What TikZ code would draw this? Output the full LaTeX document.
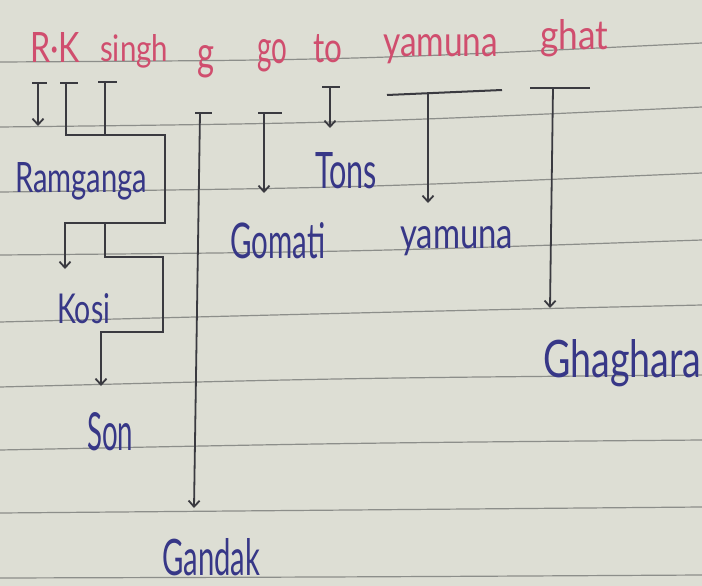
\documentclass[tikz,border=0pt]{standalone}
\usepackage{fontspec}
\setmainfont{Lato}
\usetikzlibrary{arrows.meta}
\definecolor{paper}{RGB}{221,222,212}
\definecolor{rulecol}{RGB}{140,142,138}
\definecolor{ink}{RGB}{58,58,64}
\definecolor{redink}{RGB}{208,78,110}
\definecolor{blueink}{RGB}{55,55,135}
\newcommand{\hwtext}[3]{\resizebox{#1pt}{#2pt}{#3}}
\begin{document}
\begin{tikzpicture}[x=1pt,y=-1pt,
  word/.style={anchor=base west, inner sep=0pt, text=redink},
  river/.style={anchor=base west, inner sep=0pt, text=blueink},
  bar/.style={draw=ink, line width=2pt},
  flow/.style={draw=ink, line width=1.8pt, -{Straight Barb[length=6pt,width=11pt,line width=1.8pt]}},
  ruled/.style={draw=rulecol, line width=1.2pt}]
\fill[paper] (0,0) rectangle (702,586);
\useasboundingbox (0,0) rectangle (702,586);
% ruled lines
\draw[ruled] (0,62) .. controls (350,60) .. (702,43);
\draw[ruled] (0,127) .. controls (350,123) .. (702,107);
\draw[ruled] (0,192) .. controls (350,188) .. (702,173);
\draw[ruled] (0,255) .. controls (350,252) .. (702,240);
\draw[ruled] (0,322) .. controls (350,313) .. (702,305);
\draw[ruled] (0,387) .. controls (350,378) .. (702,375);
\draw[ruled] (0,450) .. controls (350,443) .. (702,440);
\draw[ruled] (0,513) .. controls (350,510) .. (702,507);
\draw[ruled] (0,578) .. controls (350,577) .. (702,575);
% red words
\node[word] (rk) at (30,63) {\hwtext{50}{30}{R·K}};
\node[word] (singh) at (100,62) {\hwtext{68}{27}{singh}};
\node[word] (g) at (197,70) {\hwtext{17}{24}{g}};
\node[word] (go) at (257,64) {\hwtext{30}{24}{go}};
\node[word] (to) at (313,63) {\hwtext{29}{28}{to}};
\node[word] (yamunaw) at (383,57) {\hwtext{115}{22}{yamuna}};
\node[word] (ghat) at (540,50) {\hwtext{68}{30}{ghat}};
% blue rivers
\node[river] (ramganga) at (15,193) {\hwtext{132}{30}{Ramganga}};
\node[river] (tons) at (315,188) {\hwtext{62}{36}{Tons}};
\node[river] (gomati) at (230,258) {\hwtext{95}{36}{Gomati}};
\node[river] (yamuna) at (400,248) {\hwtext{113}{22}{yamuna}};
\node[river] (kosi) at (57,323) {\hwtext{53}{30}{Kosi}};
\node[river] (son) at (87,450) {\hwtext{46}{38}{Son}};
\node[river] (gandak) at (162,575) {\hwtext{98}{37}{Gandak}};
\node[river] (ghaghara) at (543,377) {\hwtext{158}{38}{Ghaghara}};
% connector points
\coordinate (rL) at (32,83); \coordinate (rR) at (47,83);
\coordinate (rT) at (38,83); \coordinate (rE) at (38,126);
\coordinate (kL) at (60,83); \coordinate (kR) at (78,83);
\coordinate (kT) at (66,83);
\coordinate (sL) at (98,82); \coordinate (sR) at (117,82);
\coordinate (sT) at (105,82);
\coordinate (kosiE) at (65,269);
\coordinate (sonE) at (101,386);
\coordinate (gL) at (195,113); \coordinate (gR) at (212,113);
\coordinate (gT) at (200,113); \coordinate (gE) at (194,508);
\coordinate (goL) at (258,113); \coordinate (goR) at (282,113);
\coordinate (goT) at (264,113); \coordinate (goE) at (264,193);
\coordinate (toL) at (322,87); \coordinate (toR) at (340,87);
\coordinate (toT) at (330,87); \coordinate (toE) at (330,128);
\coordinate (yL) at (387,95); \coordinate (yR) at (502,90);
\coordinate (yT) at (428,93); \coordinate (yE) at (428,203);
\coordinate (ghL) at (530,88); \coordinate (ghR) at (590,88);
\coordinate (ghT) at (553,88); \coordinate (ghE) at (550,308);
% bars
\foreach \a/\b in {rL/rR,kL/kR,sL/sR,gL/gR,goL/goR,toL/toR,yL/yR,ghL/ghR}
  \draw[bar] (\a) -- (\b);
% arrows
\draw[flow] (rT) -- (rE);
\draw[bar, line width=1.8pt] (sT) -- (105,135);
\draw[flow] (kT) -- (66,135) -- (165,135) -- (165,223) -- (65,223) -- (kosiE);
\draw[flow] (105,223) -- (105,257) -- (163,257) -- (163,332) -- (101,332) -- (sonE);
\draw[flow] (gT) -- (gE);
\draw[flow] (goT) -- (goE);
\draw[flow] (toT) -- (toE);
\draw[flow] (yT) -- (yE);
\draw[flow] (ghT) -- (ghE);
\end{tikzpicture}
\end{document}
